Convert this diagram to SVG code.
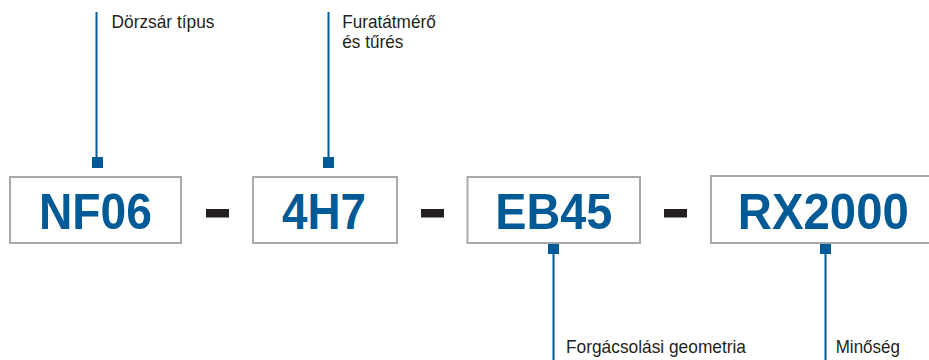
<svg xmlns="http://www.w3.org/2000/svg" width="929" height="360" viewBox="0 0 929 360">
<style>
.box{fill:#fff;stroke:#a7a9ac;stroke-width:2}
.code{font-family:"Liberation Sans",Arial,sans-serif;font-weight:bold;font-size:50px;fill:#005a96;text-anchor:middle}
.lbl{font-family:"Liberation Sans",Arial,sans-serif;font-size:18.5px;fill:#231f20}
.dash{fill:#231f20}
.ln{stroke:#005a96;stroke-width:2;fill:none}
.sq{fill:#005a96}
</style>
<rect width="929" height="360" fill="#fff"/>
<g id="connectors">
<line class="ln" x1="96.5" y1="12" x2="96.5" y2="160"/>
<rect class="sq" x="92" y="157" width="11" height="11"/>
<line class="ln" x1="328.5" y1="12" x2="328.5" y2="160"/>
<rect class="sq" x="323" y="157" width="11" height="11"/>
<line class="ln" x1="553.5" y1="250" x2="553.5" y2="360"/>
<rect class="sq" x="548" y="243" width="11" height="11"/>
<line class="ln" x1="825.5" y1="250" x2="825.5" y2="360"/>
<rect class="sq" x="820" y="243" width="11" height="11"/>
</g>
<g id="node-nf06">
<rect class="box" x="10" y="177" width="171" height="66"/>
<text class="code" x="95.5" y="229" textLength="113" lengthAdjust="spacingAndGlyphs">NF06</text>
</g>
<g id="dash1"><rect class="dash" x="206" y="209" width="23" height="8.5"/></g>
<g id="node-4h7">
<rect class="box" x="253" y="177" width="144" height="66"/>
<text class="code" x="324" y="229" textLength="84" lengthAdjust="spacingAndGlyphs">4H7</text>
</g>
<g id="dash2"><rect class="dash" x="421" y="209" width="23" height="8.5"/></g>
<g id="node-eb45">
<rect class="box" x="467.5" y="177" width="172.5" height="66"/>
<text class="code" x="553.7" y="229" textLength="117" lengthAdjust="spacingAndGlyphs">EB45</text>
</g>
<g id="dash3"><rect class="dash" x="664" y="209" width="23" height="8.5"/></g>
<g id="node-rx2000">
<rect class="box" x="711" y="176" width="225" height="67"/>
<text class="code" x="823.3" y="229" textLength="171" lengthAdjust="spacingAndGlyphs">RX2000</text>
</g>
<g id="label-tipus">
<text class="lbl" x="111.5" y="27.7" textLength="103" lengthAdjust="spacingAndGlyphs">Dörzsár típus</text>
</g>
<g id="label-furat">
<text class="lbl" x="342.3" y="27.7" textLength="93.4" lengthAdjust="spacingAndGlyphs">Furatátmérő</text>
<text class="lbl" x="342.3" y="48.3" textLength="61" lengthAdjust="spacingAndGlyphs">és tűrés</text>
</g>
<g id="label-geom">
<text class="lbl" x="566" y="353.3" textLength="180" lengthAdjust="spacingAndGlyphs">Forgácsolási geometria</text>
</g>
<g id="label-min">
<text class="lbl" x="835.7" y="353.3" textLength="64.3" lengthAdjust="spacingAndGlyphs">Minőség</text>
</g>
</svg>
